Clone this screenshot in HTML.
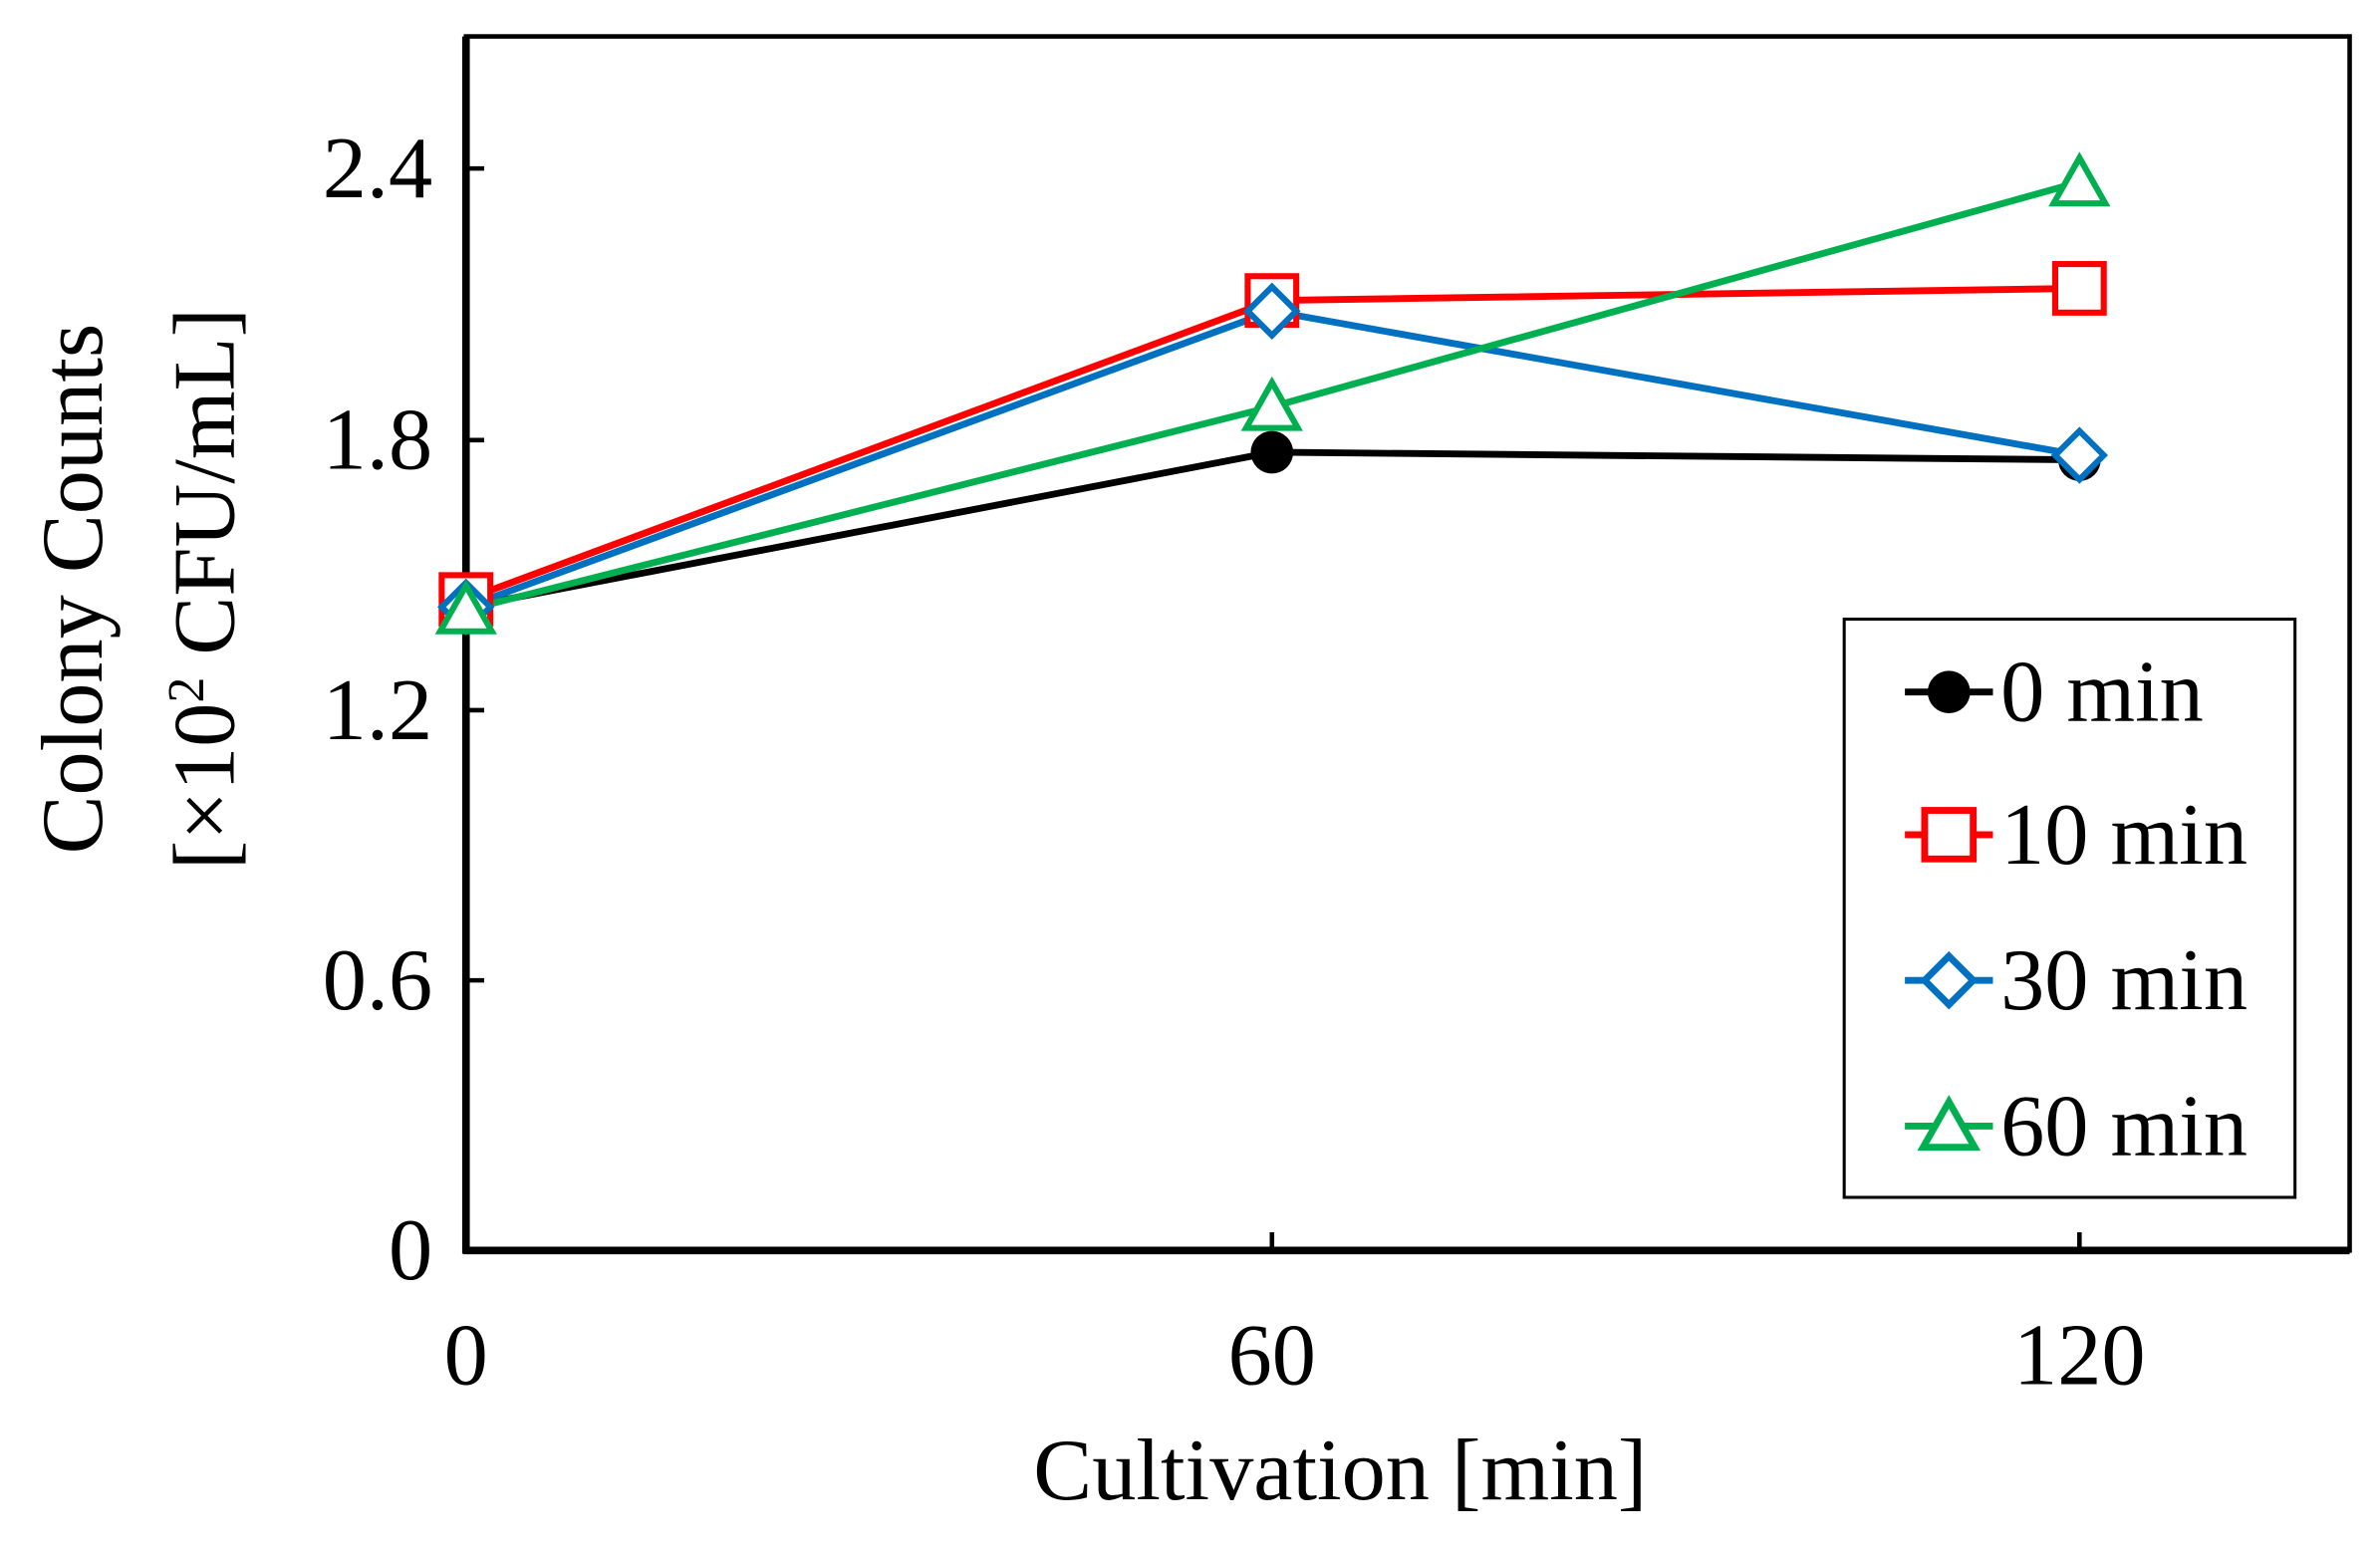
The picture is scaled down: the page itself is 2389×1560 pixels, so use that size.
<!DOCTYPE html>
<html><head><style>html,body{margin:0;padding:0;background:#fff}svg{display:block}</style></head>
<body>
<svg width="2389" height="1560" viewBox="0 0 1568 1024" preserveAspectRatio="none" xmlns="http://www.w3.org/2000/svg" font-family="Liberation Serif, serif">
<rect x="307" y="24" width="1241" height="800" fill="none" stroke="#000" stroke-width="3"/>
<line x1="307" y1="24" x2="307" y2="826" stroke="#000" stroke-width="5"/>
<line x1="305" y1="824" x2="1548" y2="824" stroke="#000" stroke-width="5"/>
<g stroke="#000" stroke-width="3">
<line x1="838" y1="824" x2="838" y2="812"/><line x1="1370" y1="824" x2="1370" y2="812"/>
<line x1="307" y1="646" x2="319" y2="646"/><line x1="307" y1="468" x2="319" y2="468"/><line x1="307" y1="290" x2="319" y2="290"/><line x1="307" y1="111" x2="319" y2="111"/>
</g>
<g font-size="58" text-anchor="end">
<text x="285" y="843">0</text><text x="285" y="665">0.6</text><text x="285" y="487">1.2</text><text x="285" y="309">1.8</text><text x="285" y="130">2.4</text>
</g>
<g font-size="58" text-anchor="middle">
<text x="307" y="912">0</text><text x="838" y="912">60</text><text x="1370" y="912">120</text>
<text x="883" y="988">Cultivation [min]</text>
</g>
<text transform="translate(67,388) rotate(-90)" font-size="58" text-anchor="middle">Colony Counts</text>
<text transform="translate(154,388) rotate(-90)" font-size="58" text-anchor="middle">[×10<tspan font-size="34" dy="-20">2</tspan><tspan dy="20"> CFU/mL]</tspan></text>
<g fill="none" stroke-width="4.5">
<polyline points="307,400 838,298 1370,303" stroke="#000"/>
<polyline points="307,395 838,198 1370,190" stroke="#ff0000"/>
<polyline points="307,400 838,205 1370,300" stroke="#0070c0"/>
<polyline points="307,402 838,268 1370,120" stroke="#00b050"/>
</g>
<g>
<circle cx="307" cy="400" r="14"/><circle cx="838" cy="298" r="14"/><circle cx="1370" cy="303" r="14"/>
</g>
<g fill="#fff" stroke="#ff0000" stroke-width="4">
<rect x="291" y="379" width="32" height="32"/><rect x="822" y="182" width="32" height="32"/><rect x="1354" y="174" width="32" height="32"/>
</g>
<g fill="#fff" stroke="#0070c0" stroke-width="4">
<polygon points="307,384 323,400 307,416 291,400"/><polygon points="838,189 854,205 838,221 822,205"/><polygon points="1370,284 1386,300 1370,316 1354,300"/>
</g>
<g fill="#fff" stroke="#00b050" stroke-width="4">
<polygon points="307,386 324,416 290,416"/><polygon points="838,252 855,282 821,282"/><polygon points="1370,104 1387,134 1353,134"/>
</g>
<rect x="1215" y="408" width="297" height="381" fill="#fff" stroke="#000" stroke-width="2"/>
<g stroke-width="4.5">
<line x1="1255" y1="456" x2="1313" y2="456" stroke="#000"/><circle cx="1284" cy="456" r="14"/>
<line x1="1255" y1="550" x2="1313" y2="550" stroke="#ff0000"/><rect x="1268" y="534" width="32" height="32" fill="#fff" stroke="#ff0000"/>
<line x1="1255" y1="646" x2="1313" y2="646" stroke="#0070c0"/><polygon points="1284,630 1300,646 1284,662 1268,646" fill="#fff" stroke="#0070c0"/>
<line x1="1255" y1="742" x2="1313" y2="742" stroke="#00b050"/><polygon points="1284,726 1301,756 1267,756" fill="#fff" stroke="#00b050"/>
</g>
<g font-size="58">
<text x="1318" y="475">0 min</text><text x="1318" y="569">10 min</text><text x="1318" y="665">30 min</text><text x="1318" y="761">60 min</text>
</g>
</svg>
</body></html>
